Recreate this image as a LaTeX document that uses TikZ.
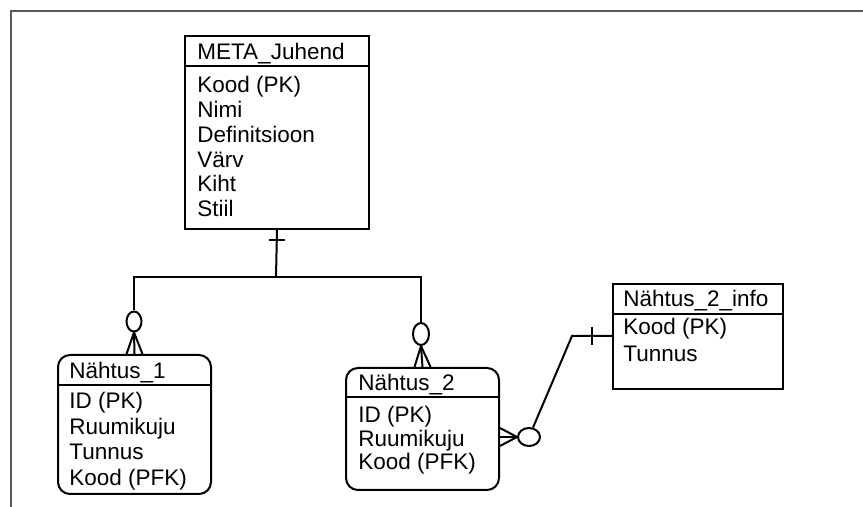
\documentclass[tikz,border=0pt]{standalone}
\usepackage{fontspec}
\setmainfont{Liberation Sans}
\usetikzlibrary{shapes.geometric}

\tikzset{
  entity/.style={draw, line width=1pt, inner sep=0pt, anchor=north west},
  weak/.style={entity, rounded corners=6pt},
  field/.style={inner sep=0pt, anchor=base west, font=\fontsize{11.25}{12.5}\selectfont},
  opt/.style={ellipse, draw, line width=1pt, inner sep=0pt},
  link/.style={line width=1pt},
}

\begin{document}
\begin{tikzpicture}[x=0.5pt,y=-0.5pt]
\useasboundingbox (0,0) rectangle (863,507);
\draw[black!65, line width=0.8pt] (11,507) -- (11,11) -- (863,11);

% META_Juhend
\node[entity, minimum width=92pt, minimum height=96.5pt] (juhend) at (184,35) {};
\draw[link] (juhend.west |- 0,66) -- (juhend.east |- 0,66);
\node[field] (juhendT) at (197,60) {META\_Juhend};
\foreach \f [count=\i from 0] in {{Kood (PK)},Nimi,Definitsioon,Värv,Kiht,Stiil}
  \node[field] (juhend-\i) at (197,{92.7+24.8*\i}) {\f};

% Nähtus_1
\node[weak, minimum width=76.5pt, minimum height=69.5pt] (n1) at (57,354) {};
\draw[link] (n1.west |- 0,385) -- (n1.east |- 0,385);
\node[field] (n1T) at (69,379) {Nähtus\_1};
\foreach \f [count=\i from 0] in {{ID (PK)},Ruumikuju,Tunnus,{Kood (PFK)}}
  \node[field] (n1-\i) at (69,{409+25.5*\i}) {\f};

% Nähtus_2
\node[weak, minimum width=76.5pt, minimum height=61pt] (n2) at (345,367) {};
\draw[link] (n2.west |- 0,397) -- (n2.east |- 0,397);
\node[field] (n2T) at (358,391) {Nähtus\_2};
\foreach \f [count=\i from 0] in {{ID (PK)},Ruumikuju,{Kood (PFK)}}
  \node[field] (n2-\i) at (358,{423+23.5*\i}) {\f};

% Nähtus_2_info
\node[entity, minimum width=85pt, minimum height=52.5pt] (info) at (612,283) {};
\draw[link] (info.west |- 0,314) -- (info.east |- 0,314);
\node[field] (infoT) at (623,307) {Nähtus\_2\_info};
\foreach \f [count=\i from 0] in {{Kood (PK)},Tunnus}
  \node[field] (info-\i) at (623,{335+26.5*\i}) {\f};

% relations
\coordinate (hub) at (276,277);
\node[opt, minimum width=7.5pt, minimum height=10pt] (o1) at (134,321.5) {};
\node[opt, minimum width=8pt, minimum height=11pt] (o2) at (421,334) {};
\node[opt, minimum width=11pt, minimum height=9pt] (o3) at (529,437) {};

\draw[link] (juhend.south) -- (hub);
\draw[link] ([shift={(-8,10)}]juhend.south) -- ([shift={(8,10)}]juhend.south);
\draw[link] (o1.north) |- (hub) -| (o2.north);
\foreach \d in {-4pt,0pt,4pt} {
  \draw[link] (o1.south) -- ([xshift=\d]n1.north);
  \draw[link] (o2.south) -- ([xshift=\d]n2.north);
}

\coordinate (c3) at (n2.east |- o3);
\foreach \d in {-4.5pt,0pt,4.5pt}
  \draw[link] (o3.west) -- ([yshift=\d]c3);
\coordinate (bend) at (572,336);
\draw[link] (o3) -- (bend) -- (info.west |- bend);
\draw[link] ([shift={(-20,-9)}]info.west |- bend) -- ([shift={(-20,9)}]info.west |- bend);

\end{tikzpicture}
\end{document}
